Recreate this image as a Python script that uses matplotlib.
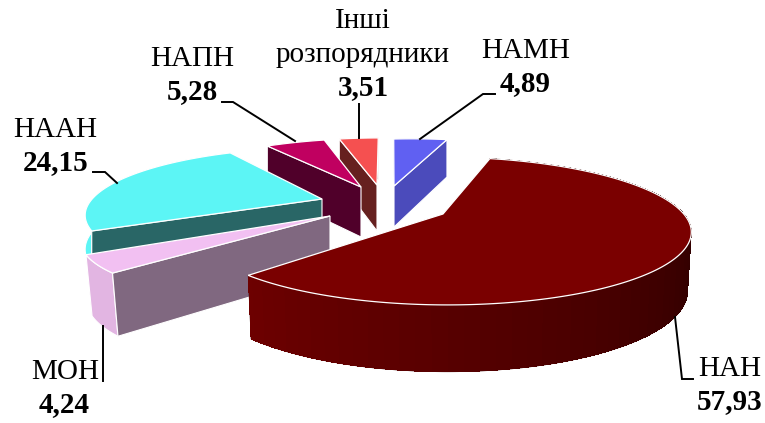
import numpy as np
import matplotlib
matplotlib.use('Agg')
import matplotlib.pyplot as plt
from matplotlib.patches import Polygon
from matplotlib.colors import to_rgb

# clockwise from the top
names = ['НАМН', 'НАН', 'МОН', 'НААН', 'НАПН', 'Інші розпорядники']
values = [4.89, 57.93, 4.24, 24.15, 5.28, 3.51]
value_labels = ['4,89', '57,93', '4,24', '24,15', '5,28', '3,51']

top_colors = ['#6060F2', '#7A0000', '#F2C0F2', '#5CF5F5', '#C00060', '#F55050']
outer_colors = ['#4B4BBB', '#6E0000', '#E2B5E2', '#5CF5F5', '#50002A', '#66201F']
radial_colors = ['#4B4BBB', '#6E0000', '#806880', '#296666', '#50002A', '#66201F']
radial_side = ['end', None, 'start', 'start', 'start', 'start']

# where each exploded slice sits and how the perspective bends it
apex = [(394, 186), (443, 214), (330, 216), (322, 199), (361, 187), (377, 185)]
bend = [(.888, -.156, -.01, .828), (.995, .05, 0, 1), (.97, -.40, 0, .93),
        (.926, -.317, .023, .897), (.893, -.198, -.003, .854), (.897, -.184, .007, .827)]
depth = [41, 57, 57, 33, 50, 46]
taper = [1, .985, .975, 1, 1, 1]
draw_order = [5, 4, 0, 3, 2, 1]

start_angle = -3
edges = start_angle + np.concatenate([[0], np.cumsum(values)]) * 360 / sum(values)


def project(theta):
    t = np.radians(theta)
    d = 1 + .23 * np.cos(t)
    return 242 * np.sin(t) / d, -70 * np.cos(t) / d


def rim(i, theta):
    px, py = project(theta)
    a, b, c, d = bend[i]
    return apex[i][0] + a * px + b * py, apex[i][1] + c * px + d * py


def lower(i, x, y):
    ax, ay = apex[i]
    return ax + (np.asarray(x) - ax) * taper[i], np.asarray(y) + depth[i] * (1 + .0019 * (np.asarray(y) - ay))


fig = plt.figure(figsize=(7.65, 4.23), dpi=100)
ax = fig.add_axes([0, 0, 1, 1])
ax.set_xlim(0, 765)
ax.set_ylim(423, 0)
ax.axis('off')

for i in draw_order:
    th = np.linspace(edges[i], edges[i + 1], max(int((edges[i + 1] - edges[i]) * 2), 12))
    x, y = rim(i, th)
    xl, yl = lower(i, x, y)
    ax_x, ax_y = apex[i]
    axl, ayl = lower(i, ax_x, ax_y)

    # outer wall
    if i == 1:
        wall = list(zip(x, y)) + list(zip(xl[::-1], yl[::-1]))
        ax.add_patch(Polygon(wall, facecolor='#3A0000', edgecolor='#3A0000', lw=.5))
        dark = np.array(to_rgb('#2A0000'))
        light = np.array(to_rgb('#6E0000'))
        for k in range(0, len(th) - 1, 6):
            e = min(k + 7, len(th) - 1)
            f = np.clip((th[k] - 90) / (edges[2] - 90), 0, 1)
            col = dark + (light - dark) * f
            ax.add_patch(Polygon(list(zip(x[k:e + 1], y[k:e + 1])) + list(zip(xl[k:e + 1][::-1], yl[k:e + 1][::-1])),
                                 facecolor=col, edgecolor='none', antialiased=False))
    else:
        ax.add_patch(Polygon(list(zip(x, y)) + list(zip(xl[::-1], yl[::-1])),
                             facecolor=outer_colors[i], edgecolor='white', lw=.8))

    # cut face
    if radial_side[i] is not None:
        k = 0 if radial_side[i] == 'start' else -1
        ax.add_patch(Polygon([(ax_x, ax_y), (x[k], y[k]), (xl[k], yl[k]), (axl, ayl)],
                             facecolor=radial_colors[i], edgecolor='white', lw=.8))

    # top face
    ax.add_patch(Polygon([(ax_x, ax_y)] + list(zip(x, y)), facecolor=top_colors[i],
                         edgecolor='white', lw=.9))

leaders = [([420, 483, 495], [139, 94, 94]),
           ([675, 682, 693], [317, 379, 379]),
           ([103, 103], [326, 381]),
           ([117, 105, 93], [183, 172, 172]),
           ([295, 233, 222], [141, 102, 102]),
           ([359, 359], [138, 104])]
for lx, ly in leaders:
    ax.plot(lx, ly, color='black', lw=1.4, solid_joinstyle='miter')

font = dict(family='Liberation Serif', fontsize=21, ha='center', va='center', color='black')
name_pos = [(526, 51), (730, 369), (65, 372), (55, 130), (192, 59)]
value_pos = [(525, 84), (730, 402), (64, 405), (56, 163), (192, 92), (363, 88)]
for (px, py), name in zip(name_pos, names):
    ax.text(px, py, name, **font)
ax.text(363, 21, 'Інші', **font)
ax.text(362.5, 55, 'розпорядники', **font)
for (px, py), v in zip(value_pos, value_labels):
    ax.text(px, py, v, fontweight='bold', **font)

fig.savefig('out.png', dpi=100)
